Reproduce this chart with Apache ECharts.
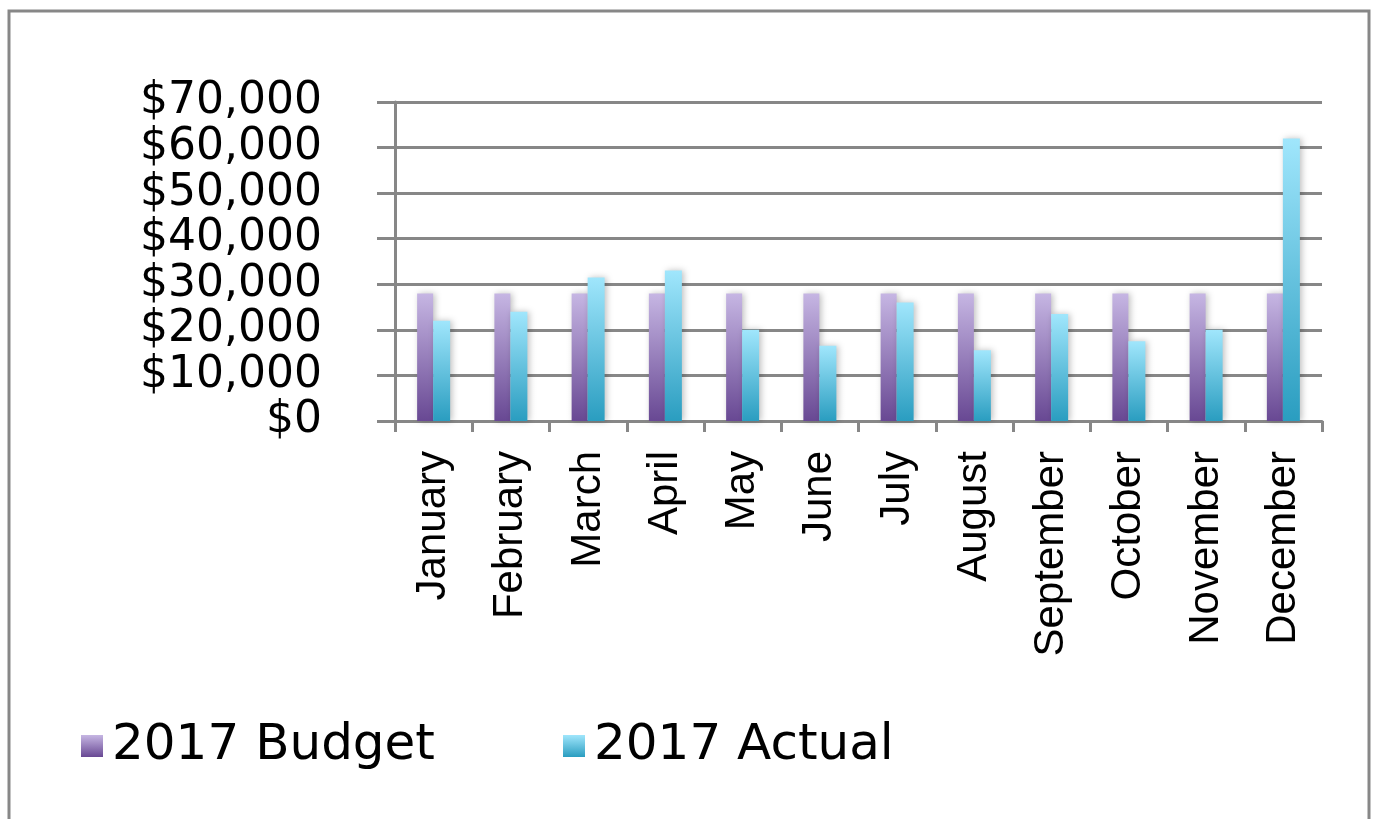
<!DOCTYPE html>
<html>
<head>
<meta charset="utf-8">
<script src="https://cdn.jsdelivr.net/npm/echarts@6/dist/echarts.min.js"></script>
<style>
html,body{margin:0;padding:0;background:#fff;}
#chart{width:1375px;height:819px;}
</style>
</head>
<body>
<div id="chart"></div>
<script>
const months = ["January","February","March","April","May","June","July","August","September","October","November","December"];
const budget2017 = [28000,28000,28000,28000,28000,28000,28000,28000,28000,28000,28000,28000];
const actual2017 = [22000,24000,31500,33000,20000,16500,26000,15500,23500,17500,20000,62000];
const seriesNames = ["2017 Budget","2017 Actual"];
const yTicks = {min:0, max:70000, interval:10000};

const chart = echarts.init(document.getElementById('chart'));
const grad = (top, bottom) => new echarts.graphic.LinearGradient(0,0,0,1,[{offset:0,color:top},{offset:1,color:bottom}]);
const gray = '#878787';
const budgetColor = grad('#c6b6e3','#684893');
const actualColor = grad('#a0e6fc','#2a9dc0');

chart.setOption({
  animation:false,
  backgroundColor:'#fff',
  graphic:[{
    type:'rect', shape:{x:9,y:11,width:1360,height:900},
    style:{fill:'none',stroke:gray,lineWidth:3}, silent:true
  }],
  grid:{left:395,right:53,top:102,bottom:398,containLabel:false},
  legend:{
    left:76, top:716, itemWidth:22, itemHeight:22, itemGap:128,
    textStyle:{fontFamily:'DejaVu Sans',fontSize:50,color:'#000',padding:[0,0,0,4]},
    data:[
      {name:seriesNames[0],icon:'rect',symbolKeepAspect:false,itemStyle:{color:budgetColor,borderWidth:0,shadowBlur:0,shadowOffsetX:0}},
      {name:seriesNames[1],icon:'rect',symbolKeepAspect:false,itemStyle:{color:actualColor,borderWidth:0,shadowBlur:0,shadowOffsetX:0}}
    ]
  },
  xAxis:{
    type:'category', data:months,
    axisLine:{show:true,lineStyle:{color:gray,width:3}},
    axisTick:{show:true,length:11,interval:0,lineStyle:{color:gray,width:3}},
    axisLabel:{rotate:90,interval:0,margin:30,color:'#000',fontFamily:'Liberation Sans Narrow, Liberation Sans',fontSize:42}
  },
  yAxis:{
    type:'value', min:yTicks.min, max:yTicks.max, interval:yTicks.interval,
    axisLine:{show:true,lineStyle:{color:gray,width:3}},
    axisTick:{show:true,length:18,lineStyle:{color:gray,width:3}},
    splitLine:{show:true,lineStyle:{color:gray,width:3}},
    axisLabel:{margin:73,color:'#000',fontFamily:'DejaVu Sans',fontSize:44,
      formatter:v=>'$'+v.toLocaleString('en-US')}
  },
  series:[
    {name:seriesNames[0],type:'bar',data:budget2017,barWidth:16,barGap:'0%',
     itemStyle:{color:budgetColor,shadowBlur:6,shadowColor:'rgba(0,0,0,0.25)',shadowOffsetX:2}},
    {name:seriesNames[1],type:'bar',data:actual2017,barWidth:17,barGap:'0%',
     itemStyle:{color:actualColor,shadowBlur:6,shadowColor:'rgba(0,0,0,0.25)',shadowOffsetX:2}}
  ]
});
</script>
</body>
</html>
